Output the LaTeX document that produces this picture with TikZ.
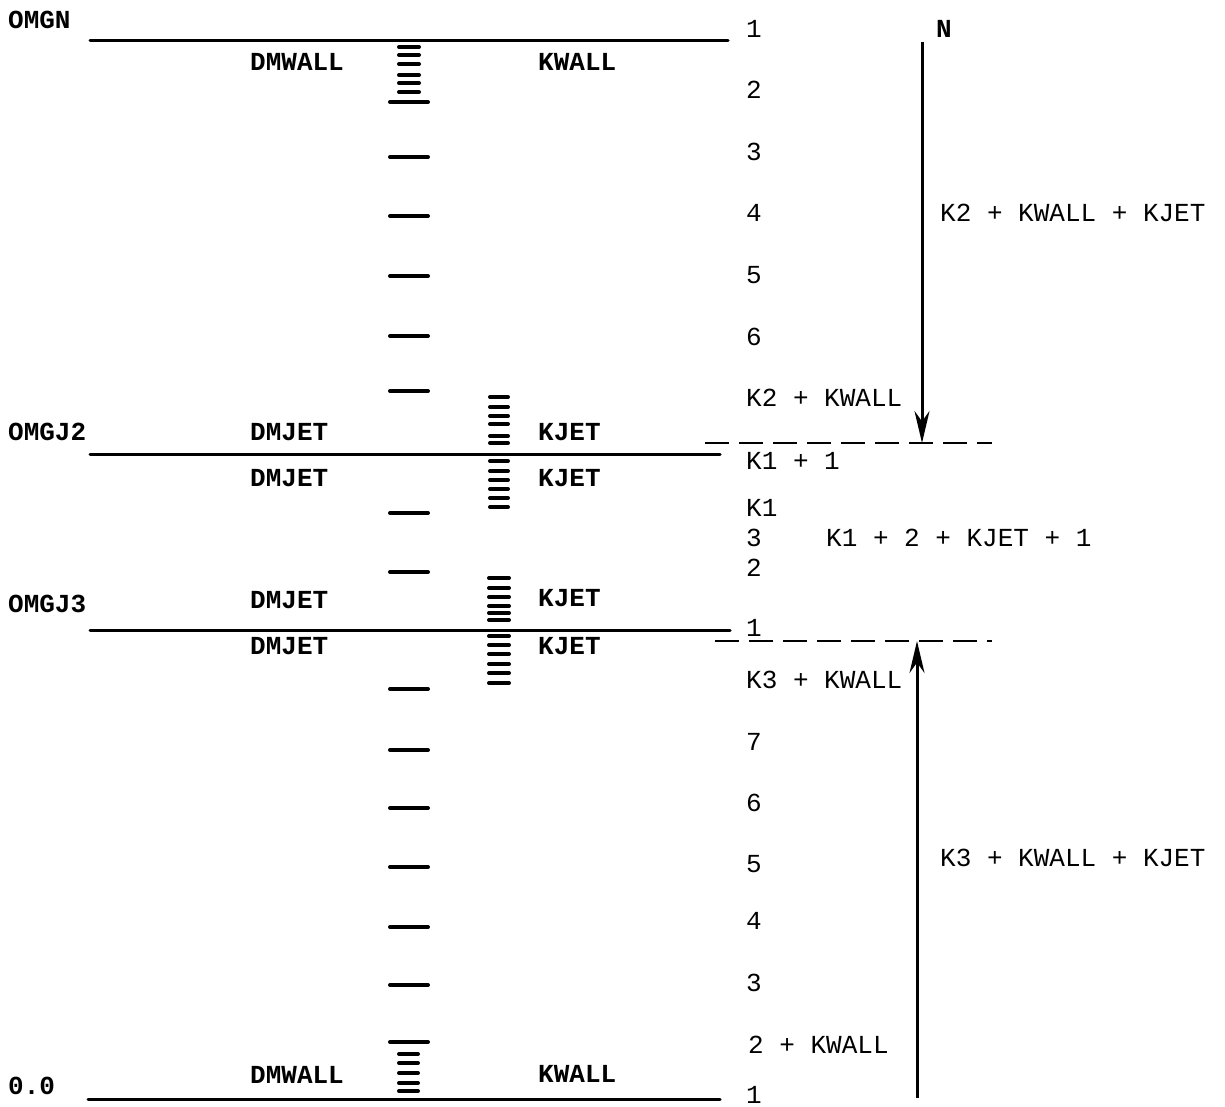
\documentclass[tikz,border=0pt]{standalone}
\usepackage{fontspec}
\newfontfamily\tw{Liberation Mono}
\usetikzlibrary{arrows.meta}
\tikzset{
  lab/.style={font=\tw\bfseries\fontsize{26}{28}\selectfont, anchor=west, inner sep=0pt},
  num/.style={font=\tw\fontsize{26}{28}\selectfont, inner sep=0pt},
  numw/.style={num, anchor=west},
  lvl/.style={line width=3pt, line cap=round},
  tk/.style={line width=4pt, line cap=round},
  dsh/.style={line width=2.4pt, dash pattern=on 24pt off 10pt},
  arr/.style={line width=3pt, -{Stealth[length=32pt,width=15pt]}}
}
\begin{document}
\begin{tikzpicture}[x=1pt,y=-1pt]
\useasboundingbox (0,0) rectangle (1225,1107);
% level lines
\coordinate (gnL) at (90,41);   \coordinate (gnR) at (728,41);
\coordinate (j2L) at (90,454);  \coordinate (j2R) at (720,454);
\coordinate (j3L) at (90,630);  \coordinate (j3R) at (730,630);
\coordinate (zL) at (88,1099);  \coordinate (zR) at (720,1099);
\draw[lvl] (gnL) -- (gnR);
\draw[lvl] (j2L) -- (j2R);
\draw[lvl] (j3L) -- (j3R);
\draw[lvl] (zL) -- (zR);
% long ticks
\foreach \y in {102,157,216,276,336,391,513,572,689,750,808,867,927,985,1042}
  \draw[tk] (390,\y) -- (428,\y);
% small tick clusters
\foreach \y in {47,55,64,75,83,92}
  \draw[tk] (399,\y) -- (419,\y);
\foreach \y in {397,407,416,424,436,443,461,471,480,489,498,507}
  \draw[tk] (490,\y) -- (508,\y);
\foreach \y in {578,588,597,606,613,620,636,645,654,664,673,683}
  \draw[tk] (489,\y) -- (509,\y);
\foreach \y in {1054,1063,1073,1083,1091}
  \draw[tk] (399,\y) -- (418,\y);
% dashed lines
\coordinate (d1L) at (705,443); \coordinate (d1R) at (992,443);
\coordinate (d2L) at (715,641); \coordinate (d2R) at (992,641);
\draw[dsh] (d1L) -- (d1R);
\draw[dsh] (d2L) -- (d2R);
% arrows
\coordinate (a1s) at (922,42); \coordinate (a1e) at (922,443);
\coordinate (a2s) at (917,1098); \coordinate (a2e) at (917,641);
\draw[arr] (a1s) -- (a1e);
\draw[arr] (a2s) -- (a2e);
% left labels
\node[lab] (omgn) at (8,20) {OMGN};
\node[lab] (omgj2) at (8,432) {OMGJ2};
\node[lab] (omgj3) at (8,604) {OMGJ3};
\node[lab] (zero) at (8,1086) {0.0};
\node[lab] (dmw1) at (250,62) {DMWALL};
\node[lab] (kw1) at (538,62) {KWALL};
\node[lab] (dmj1) at (250,432) {DMJET};
\node[lab] (kj1) at (538,432) {KJET};
\node[lab] (dmj2) at (250,478) {DMJET};
\node[lab] (kj2) at (538,478) {KJET};
\node[lab] (dmj3) at (250,600) {DMJET};
\node[lab] (kj3) at (538,598) {KJET};
\node[lab] (dmj4) at (250,646) {DMJET};
\node[lab] (kj4) at (538,646) {KJET};
\node[lab] (dmw2) at (250,1075) {DMWALL};
\node[lab] (kw2) at (538,1074) {KWALL};
% right numbering
\node[num] (n1) at (754,29) {1};
\node[num] (n2) at (754,90) {2};
\node[num] (n3) at (754,152) {3};
\node[num] (n4) at (754,213) {4};
\node[num] (n5) at (754,275) {5};
\node[num] (n6) at (754,337) {6};
\node[numw] (k2w) at (746,398) {K2 + KWALL};
\node[numw] (k1p) at (746,461) {K1 + 1};
\node[numw] (k1) at (746,508) {K1};
\node[num] (m3) at (754,538) {3};
\node[num] (m2) at (754,568) {2};
\node[num] (m1) at (754,628) {1};
\node[numw] (k3w) at (746,680) {K3 + KWALL};
\node[num] (b7) at (754,742) {7};
\node[num] (b6) at (754,803) {6};
\node[num] (b5) at (754,864) {5};
\node[num] (b4) at (754,921) {4};
\node[num] (b3) at (754,983) {3};
\node[numw] (b2) at (748,1045) {2 + KWALL};
\node[num] (b1) at (754,1095) {1};
\node[lab, anchor=center] (nN) at (944,29) {N};
\node[numw] (t1) at (940,213) {K2 + KWALL + KJET};
\node[numw] (t2) at (826,538) {K1 + 2 + KJET + 1};
\node[numw] (t3) at (940,858) {K3 + KWALL + KJET};
\end{tikzpicture}
\end{document}
